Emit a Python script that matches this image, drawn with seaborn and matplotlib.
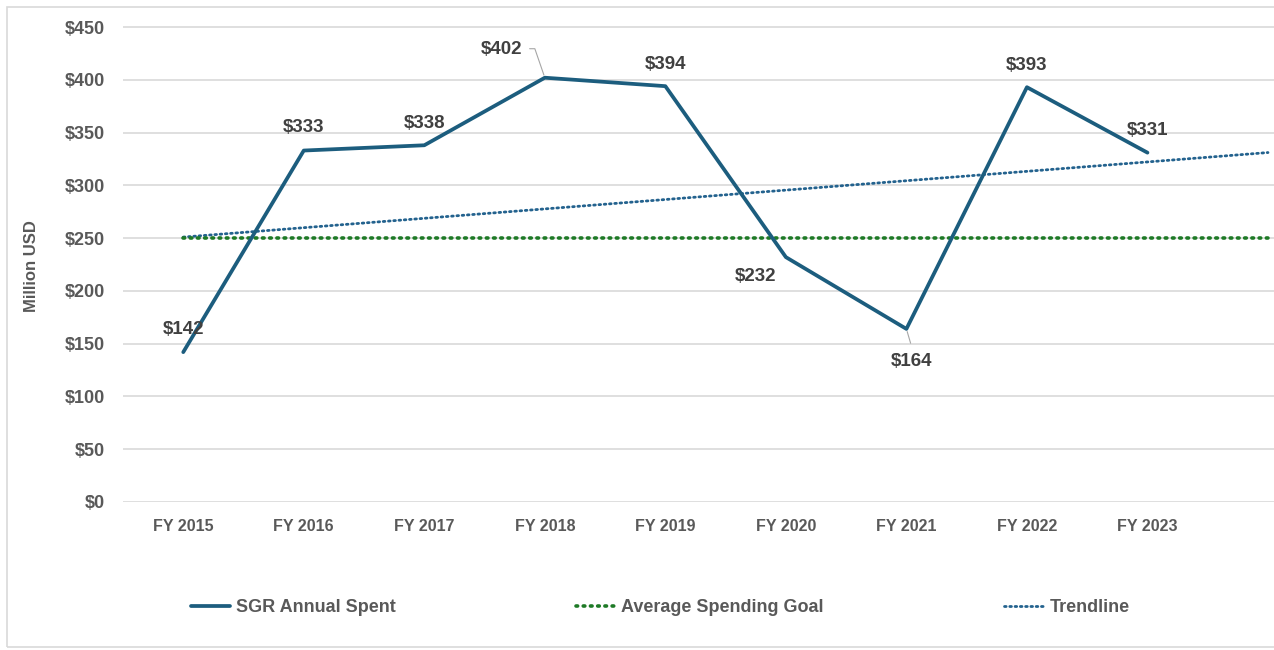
import pandas as pd
import seaborn as sns
import matplotlib.pyplot as plt
from matplotlib.patches import Rectangle

sns.set_theme(style='white')
plt.rcParams['font.family'] = ['Liberation Sans', 'DejaVu Sans']

# values
years = ['FY 2015', 'FY 2016', 'FY 2017', 'FY 2018', 'FY 2019',
         'FY 2020', 'FY 2021', 'FY 2022', 'FY 2023']
spent = [142, 333, 338, 402, 394, 232, 164, 393, 331]
# goal and trendline run one slot past FY 2023 (unlabelled)
goal = [250, 250, 250, 250, 250, 250, 250, 250, 250, 250]
trend = [251.0, 259.9, 268.8, 277.7, 286.6, 295.5, 304.4, 313.3, 322.2,
         331.1]

spent_df = pd.DataFrame({'pos': range(len(spent)), 'value': spent})
goal_df = pd.DataFrame({'pos': range(len(goal)), 'value': goal})
trend_df = pd.DataFrame({'pos': range(len(trend)), 'value': trend})

line_col = '#1c5d7e'
goal_col = '#1e7a26'
trend_col = '#23628e'
grey = '#595959'
label_col = '#404040'

fig = plt.figure(figsize=(12.74, 6.5), dpi=100)
ax = fig.add_axes([123 / 1274, 1 - 502 / 650, 1 - 123 / 1274, 476 / 650])

sns.lineplot(x='pos', y='value', data=trend_df, ax=ax, color=trend_col,
             linewidth=2.0, linestyle=(0, (0.6, 1.3)),
             dash_capstyle='round', label='Trendline')
sns.lineplot(x='pos', y='value', data=goal_df, ax=ax, color=goal_col,
             linewidth=2.6, linestyle=(0, (0.45, 1.55)),
             dash_capstyle='round', label='Average Spending Goal')
sns.lineplot(x='pos', y='value', data=spent_df, ax=ax, color=line_col,
             linewidth=2.7, label='SGR Annual Spent')

ax.set_xlim(-0.5, 9.05)
ax.set_ylim(0, 451)
ax.set_yticks(range(0, 451, 50))
ax.set_yticklabels(['$%d' % v for v in range(0, 451, 50)])
ax.set_xticks(range(len(years)))
ax.set_xticklabels(years)
ax.grid(axis='y', color='#d9d9d9', linewidth=1.2)
ax.grid(axis='x', visible=False)
sns.despine(ax=ax, left=True, bottom=True)
ax.set_xlabel('')
ax.set_ylabel('')
ax.tick_params(axis='y', length=0, pad=13, labelsize=13, labelcolor=grey)
ax.tick_params(axis='x', length=0, pad=12, labelsize=11.5, labelcolor=grey)
for t in ax.get_yticklabels():
    t.set_fontweight('bold')
for t in ax.get_xticklabels():
    t.set_fontweight('bold')

# data labels, offsets in pixels
offsets = [(0, 23), (0, 23), (0, 22), (-43, 28), (0, 22),
           (-30, -19), (5, -33), (0, 22), (0, 22)]
for i, v in enumerate(spent):
    dx, dy = offsets[i]
    ax.annotate('$%d' % v, xy=(i, v), xytext=(dx, dy),
                textcoords='offset pixels', ha='center', va='center',
                fontsize=13.5, fontweight='bold', color=label_col)
# leader lines for the two labels that sit away from their points
ax.annotate('', xy=(3, spent[3]), xytext=(-18, 29),
            textcoords='offset pixels',
            arrowprops=dict(arrowstyle='-', color='#a6a6a6', lw=0.8,
                            connectionstyle='angle,angleA=0,angleB=109,rad=0'))
ax.annotate('', xy=(6, spent[6]), xytext=(5, -17),
            textcoords='offset pixels',
            arrowprops=dict(arrowstyle='-', color='#a6a6a6', lw=0.8))

fig.text(32 / 1274, 1 - 266 / 650, 'Million USD', rotation=90,
         ha='center', va='center', fontsize=12, color=grey,
         fontweight='semibold')

# legend in the order of the reference
handles, labels = ax.get_legend_handles_labels()
order = [2, 1, 0]
ax.get_legend().remove()
leg = fig.legend([handles[i] for i in order], [labels[i] for i in order],
                 loc='center', bbox_to_anchor=(660 / 1274, 1 - 608 / 650),
                 ncol=3, frameon=False, handlelength=2.2, handletextpad=0.3,
                 columnspacing=10.0,
                 prop={'size': 13, 'weight': 'bold'})
for t in leg.get_texts():
    t.set_color(grey)

# light frame around the chart area
fig.patches.append(Rectangle((7 / 1274, 3 / 650), 1.2, 640 / 650,
                             transform=fig.transFigure, fill=False,
                             edgecolor='#d9d9d9', linewidth=1.2))

fig.savefig('out.png', dpi=100)
